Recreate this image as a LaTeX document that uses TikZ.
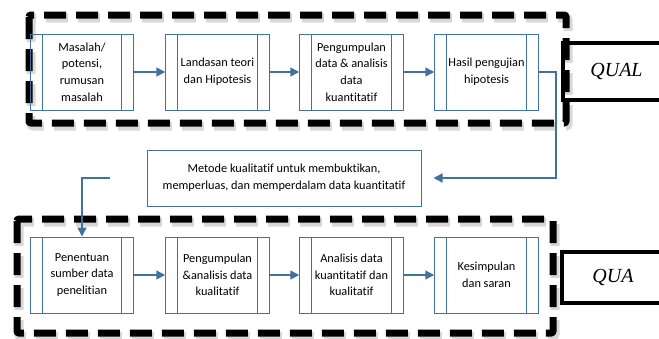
\documentclass[tikz,border=0pt]{standalone}
\usepackage{fontspec}
\setmainfont{Carlito}[Ligatures=NoCommon]
\newfontfamily\tagfont{Liberation Serif}
\usetikzlibrary{arrows.meta}
\definecolor{procblue}{RGB}{65,113,156}
\tikzset{every picture/.style={line width=0.75pt}}
\tikzset{
  proc/.style={draw=procblue, line width=1pt, minimum width=103.5pt, minimum height=76pt,
    inner sep=0pt, align=center, font=\fontsize{12.3}{16.7}\selectfont,
    path picture={\draw[procblue, line width=1pt]
      ([xshift=12pt]path picture bounding box.north west) -- ([xshift=12pt]path picture bounding box.south west)
      ([xshift=-12pt]path picture bounding box.north east) -- ([xshift=-12pt]path picture bounding box.south east);}},
  note/.style={draw=procblue, line width=1pt, minimum width=274pt, minimum height=56pt,
    inner sep=0pt, align=center, font=\fontsize{12.3}{17}\selectfont},
  flow/.style={procblue, line width=1.5pt, -{Triangle[length=9pt,width=9pt]}},
  phase/.style={black, line width=7pt, dash pattern=on 22pt off 10pt, rounded corners=2pt},
  phaseshade/.style={black!30, line width=9pt, dash pattern=on 22pt off 10pt, rounded corners=2pt, opacity=0.5},
  tag/.style={draw=black, line width=4.5pt, inner sep=0pt, font=\tagfont\itshape\fontsize{20}{20}\selectfont}
}

\begin{document}
\begin{tikzpicture}[x=1pt,y=-1pt]
\clip (0,0) rectangle (659,338);

%Shape: phase frames
\draw[phaseshade] (31,18) rectangle (568,126);
\draw[phase] (29,15) rectangle (566,123);
\draw[phaseshade] (19,222) rectangle (555,336);
\draw[phase] (17,219) rectangle (553,333);

% Process Nodes, upper row
\node[proc] (t1) at (82,72) {Masalah/\\potensi,\\rumusan\\masalah};
\node[proc] (t2) at (217.5,72) {Landasan teori\\dan Hipotesis};
\node[proc] (t3) at (351.5,72) {Pengumpulan\\data \& analisis\\data\\kuantitatif};
\node[proc] (t4) at (486.5,72) {Hasil pengujian\\hipotesis};

% Process Nodes, lower row
\node[proc] (b1) at (82,275) {Penentuan\\sumber data\\penelitian};
\node[proc] (b2) at (217.5,275) {Pengumpulan\\\&analisis data\\kualitatif};
\node[proc] (b3) at (351.5,275) {Analisis data\\kuantitatif dan\\kualitatif};
\node[proc] (b4) at (486.5,275) {Kesimpulan\\dan saran};

% Text Node
\node[note] (mid) at (284,178) {Metode kualitatif untuk membuktikan,\\memperluas, dan memperdalam data kuantitatif};

% Tags
\node[tag, minimum width=107pt, minimum height=57pt] (qual) at (616.5,71.5) {QUAL};
\node[tag, minimum width=102pt, minimum height=51pt] (qua) at (613,277.5) {QUA};

% Connectors
\draw[flow] (t1) -- (t2);
\draw[flow] (t2) -- (t3);
\draw[flow] (t3) -- (t4);
\draw[flow, shorten >=12pt] (t4.east) -- ++(17,0) |- (mid.east);
\coordinate (from) at (110,178);
\draw[flow] (from) -| (b1.north);
\draw[flow] (b1) -- (b2);
\draw[flow] (b2) -- (b3);
\draw[flow] (b3) -- (b4);

\end{tikzpicture}
\end{document}
